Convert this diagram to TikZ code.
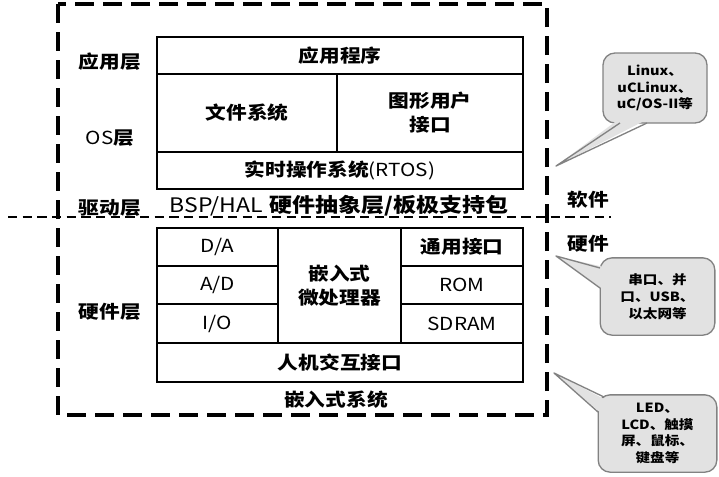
\documentclass[tikz,border=0pt]{standalone}
\usepackage{fontspec}
\setmainfont{Noto Sans CJK SC}[FakeStretch=1.15]
\definecolor{callfill}{RGB}{226,226,226}
\definecolor{callline}{RGB}{130,130,130}
\newcommand{\lt}[1]{{\mdseries #1}}
\tikzset{
  box/.style={draw, line width=1.5pt, inner sep=0pt, outer sep=0pt, align=center,
    font=\fontsize{13.5}{18}\selectfont\bfseries},
  lbl/.style={inner sep=0pt, font=\fontsize{13.5}{15}\selectfont\bfseries},
  outerdash/.style={line width=2.4pt, dash pattern=on 14pt off 7pt},
  hdash/.style={line width=1.4pt, dash pattern=on 7pt off 4pt},
  callout/.style={draw=callline, fill=callfill, line width=1pt, rounded corners=9pt,
    inner sep=0pt, align=center, font=\fontsize{9.5}{12.5}\selectfont\bfseries},
  ptrfill/.style={fill=callfill},
  ptrline/.style={draw=callline, line width=1pt, line join=round},
}
\newcommand{\mybox}[6]{%
  \node[box, minimum width={(#4-#2)*0.75pt}, minimum height={(#5-#3)*0.75pt}]
    (#1) at ({(#2+#4)/2},{(#3+#5)/2}) {#6};}
\begin{document}
\begin{tikzpicture}[x=0.75pt,y=-0.75pt]
\useasboundingbox (0,0) rectangle (719,476);
% horizontal software/hardware divider
\coordinate (hl) at (8,217);
\coordinate (hr) at (611,217);
\draw[hdash] (hl) -- (hr);
% outer dashed frame
\coordinate (o1) at (58,4);
\coordinate (o2) at (547,415);
\draw[outerdash] (o1) rectangle (o2);
% software blocks
\mybox{app}{157}{37}{523}{74}{应用程序}
\mybox{fs}{157}{74}{337}{152}{文件系统}
\mybox{gui}{337}{74}{523}{152}{图形用户\\接口}
\mybox{rtos}{157}{152}{523}{189}{实时操作系统\lt{(RTOS)}}
% hardware blocks
\mybox{da}{157}{228}{278}{266}{\lt{D/A}}
\mybox{ad}{157}{266}{278}{304}{\lt{A/D}}
\mybox{io}{157}{304}{278}{343}{\lt{I/O}}
\mybox{cpu}{278}{228}{401}{343}{嵌入式\\微处理器}
\mybox{gen}{401}{228}{523}{266}{通用接口}
\mybox{rom}{401}{266}{523}{304}{\lt{ROM}}
\mybox{sdram}{401}{304}{523}{343}{\lt{SDRAM}}
\mybox{hmi}{157}{343}{523}{382}{人机交互接口}
% layer labels
\node[lbl] (l1) at (110,62) {应用层};
\node[lbl] (l2) at (110,138) {\lt{OS}层};
\node[lbl] (l3) at (110,208) {驱动层};
\node[lbl] (l4) at (110,312) {硬件层};
\node[lbl, font=\fontsize{15}{16}\selectfont\bfseries] (bsp) at (339,206) {\lt{BSP/HAL}\,\,硬件抽象层/板极支持包};
\node[lbl] (sw) at (588,200) {软件};
\node[lbl] (hw) at (588,244) {硬件};
\node[lbl] (emb) at (336,400) {嵌入式系统};
% callout 1
\node[callout, minimum width=78pt, minimum height=52.5pt] (c1) at (655,88) {Linux、\\uCLinux、\\uC/OS-II等};
\coordinate (t1) at (556,166);
\fill[ptrfill] (t1) -- (619,119) -- (648,119) -- cycle;
\draw[ptrline] (620,123) -- (t1) -- (647,123);
% callout 2
\node[callout, minimum width=86pt, minimum height=58pt] (c2) at (657.5,296.5) {串口、并\\口、USB、\\以太网等};
\coordinate (t2) at (556,256);
\fill[ptrfill] (t2) -- (604,267) -- (604,290) -- cycle;
\draw[ptrline] (600,268) -- (t2) -- (600,288);
% callout 3
\node[callout, minimum width=89pt, minimum height=58pt] (c3) at (657.5,433.5) {LED、\\LCD、触摸\\屏、鼠标、\\键盘等};
\coordinate (t3) at (554,373);
\fill[ptrfill] (t3) -- (606,400) -- (602,414) -- cycle;
\draw[ptrline] (604,397) -- (t3) -- (598,412);
\end{tikzpicture}
\end{document}
